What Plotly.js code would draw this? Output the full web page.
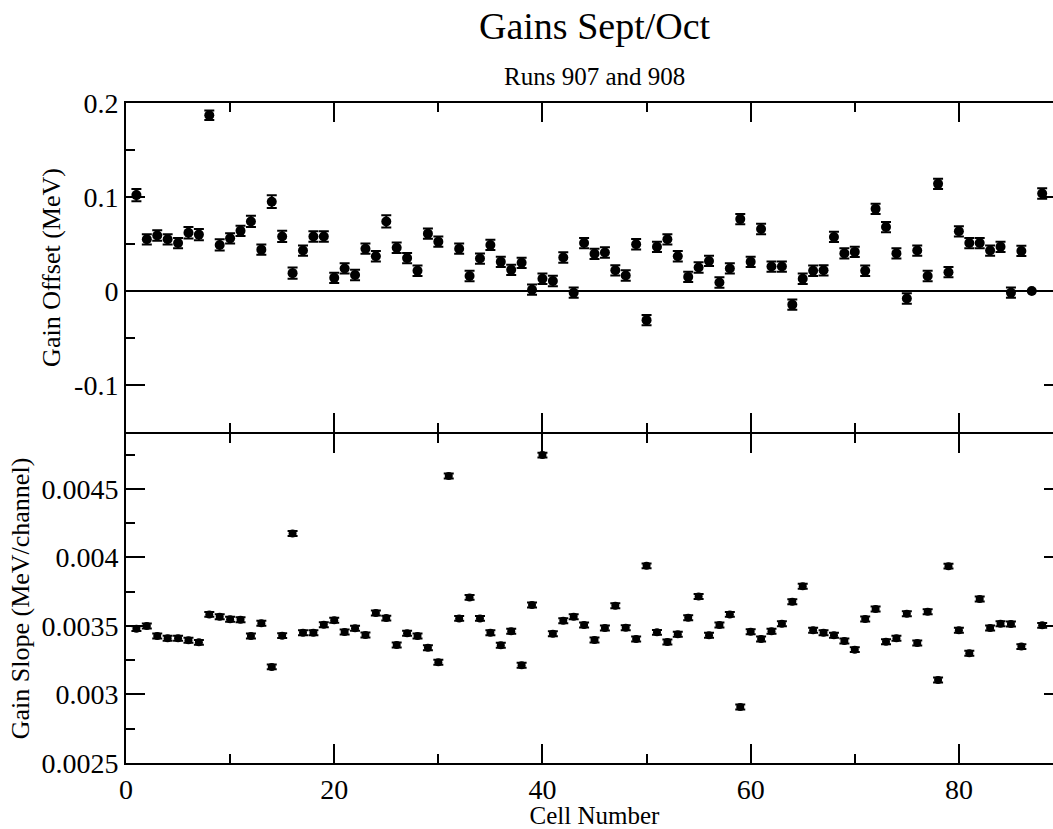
<!DOCTYPE html>
<html>
<head>
<meta charset="utf-8">
<script src="https://cdn.plot.ly/plotly-3.0.1.min.js"></script>
<style>
html, body { margin: 0; padding: 0; overflow: hidden; background: #fff; }
#chart { width: 1100px; height: 829px; }
</style>
</head>
<body>
<div id="chart"></div>
<script>
const cells = [1,2,3,4,5,6,7,8,9,10,11,12,13,14,15,16,17,18,19,20,21,22,23,24,25,26,27,28,29,30,
  31,32,33,34,35,36,37,38,39,40,41,42,43,44,45,46,47,48,49,50,51,52,53,54,55,56,57,58,59,60,
  61,62,63,64,65,66,67,68,69,70,71,72,73,74,75,76,77,78,79,80,81,82,83,84,85,86,87,88];

const gainOffset = [0.102,0.055,0.059,0.055,0.051,0.062,0.060,0.187,0.049,0.056,
  0.064,0.074,0.044,0.095,0.058,0.019,0.043,0.058,0.058,0.014,
  0.024,0.017,0.045,0.037,0.074,0.046,0.035,0.0215,0.061,0.0525,
  null,0.045,0.016,0.0345,0.049,0.031,0.0225,0.030,0.0014,0.013,
  0.0106,0.0356,-0.0018,0.051,0.0395,0.041,0.022,0.0165,0.0497,-0.031,
  0.047,0.055,0.037,0.015,0.025,0.032,0.009,0.024,0.0765,0.031,
  0.066,0.026,0.026,-0.0145,0.013,0.0215,0.022,0.0575,0.040,0.0416,
  0.0215,0.0874,0.068,0.040,-0.008,0.043,0.016,0.114,0.020,0.0635,
  0.051,0.051,0.043,0.047,-0.0018,0.0426,0,0.1037];

const gainOffsetErr = [0.0065,0.0055,0.0055,0.0055,0.0055,0.0062,0.006,0.005,0.006,0.0055,
  0.0055,0.006,0.0055,0.0068,0.006,0.006,0.0055,0.0055,0.0055,0.0055,
  0.0055,0.0055,0.0055,0.0055,0.0065,0.0055,0.0055,0.0055,0.0055,0.0055,
  null,0.0055,0.0055,0.0055,0.0055,0.0055,0.0055,0.0055,0.0055,0.0055,
  0.0055,0.0055,0.0055,0.0055,0.0055,0.0055,0.0055,0.0055,0.0055,0.0055,
  0.0055,0.0055,0.0055,0.0055,0.0055,0.0055,0.0055,0.0055,0.0055,0.0055,
  0.0055,0.0055,0.0055,0.0055,0.0055,0.0055,0.0055,0.0055,0.0055,0.0055,
  0.0055,0.0055,0.0055,0.0055,0.0055,0.0055,0.0055,0.0055,0.0055,0.0055,
  0.0055,0.0055,0.0055,0.0055,0.0055,0.0055,0,0.0055];

const gainSlope = [0.00348,0.00350,0.003427,0.00341,0.00341,0.003395,0.00338,0.003584,0.003567,0.003548,
  0.003545,0.003427,0.003519,0.003201,0.003429,0.004174,0.00345,0.00345,0.003509,0.003541,
  0.003456,0.003483,0.003434,0.003594,0.003557,0.003361,0.003446,0.003427,0.003341,0.003235,
  0.004593,0.003555,0.003708,0.003555,0.00345,0.003359,0.003461,0.003213,0.003652,0.004746,
  0.003443,0.003538,0.003567,0.003507,0.003397,0.003485,0.003647,0.003487,0.003405,0.003938,
  0.003453,0.003383,0.003439,0.00356,0.003715,0.003432,0.003507,0.003584,0.002908,0.003458,
  0.003405,0.003461,0.003516,0.003676,0.00379,0.003468,0.00345,0.003432,0.00339,0.003327,
  0.00355,0.003623,0.003385,0.00341,0.003589,0.003376,0.003603,0.003106,0.003936,0.003468,
  0.003301,0.003696,0.003485,0.003516,0.003514,0.003349,null,0.003504];

const gainSlopeErr = [0.000018,0.000018,0.000018,0.000018,0.000018,0.000018,0.000018,0.000018,0.000018,0.000018,
  0.000018,0.000018,0.000018,0.000018,0.000018,0.000018,0.000018,0.000018,0.000018,0.000018,
  0.000018,0.000018,0.000018,0.000018,0.000018,0.000018,0.000018,0.000018,0.000018,0.000018,
  0.000018,0.000018,0.000018,0.000018,0.000018,0.000018,0.000018,0.000018,0.000018,0.000018,
  0.000018,0.000018,0.000018,0.000018,0.000018,0.000018,0.000018,0.000018,0.000018,0.000018,
  0.000018,0.000018,0.000018,0.000018,0.000018,0.000018,0.000018,0.000018,0.000018,0.000018,
  0.000018,0.000018,0.000018,0.000018,0.000018,0.000018,0.000018,0.000018,0.000018,0.000018,
  0.000018,0.000018,0.000018,0.000018,0.000018,0.000018,0.000018,0.000018,0.000018,0.000018,
  0.000018,0.000018,0.000018,0.000018,0.000018,0.000018,null,0.000018];

const xTickVals = [0, 20, 40, 60, 80];
const offsetTickVals = [-0.1, 0, 0.1, 0.2];
const offsetTickText = ['-0.1', '0', '0.1', '0.2'];
const slopeTickVals = [0.0025, 0.003, 0.0035, 0.004, 0.0045];
const slopeTickText = ['0.0025', '0.003', '0.0035', '0.004', '0.0045'];

const FONT = 'Liberation Serif, Times New Roman, serif';
const TICKSIZE = 28;

const traces = [
  {
    x: cells, y: gainOffset, type: 'scatter', mode: 'markers',
    xaxis: 'x2', yaxis: 'y2',
    marker: { color: '#000', size: 10 },
    error_y: { type: 'data', array: gainOffsetErr, visible: true, color: '#000', thickness: 2, width: 5 },
    hoverinfo: 'x+y'
  },
  {
    x: cells, y: gainSlope, type: 'scatter', mode: 'markers',
    xaxis: 'x', yaxis: 'y',
    marker: { color: '#000', size: 8 },
    error_y: { type: 'data', array: gainSlopeErr, visible: true, color: '#000', thickness: 2, width: 5 },
    hoverinfo: 'x+y'
  }
];

const baseX = {
  range: [0, 90], showline: true, linecolor: '#000', linewidth: 2, mirror: 'ticks',
  ticks: 'inside', ticklen: 19, tickwidth: 2, tickcolor: '#000',
  tickvals: xTickVals, showgrid: false, zeroline: false,
  minor: { tickvals: [10, 30, 50, 70, 90], ticks: 'inside', ticklen: 9, tickwidth: 2, tickcolor: '#000', showgrid: false },
  tickfont: { family: FONT, size: TICKSIZE, color: '#000' }
};

const layout = {
  width: 1100, height: 829,
  margin: { l: 126, r: 37, t: 103, b: 66 },
  paper_bgcolor: '#fff', plot_bgcolor: '#fff',
  showlegend: false,
  font: { family: FONT, color: '#000' },
  xaxis: Object.assign({}, baseX, {
    anchor: 'y', domain: [0, 1],
    title: { text: 'Cell Number', font: { family: FONT, size: 25, color: '#000' }, standoff: 0 }
  }),
  xaxis2: Object.assign({}, baseX, {
    anchor: 'y2', domain: [0, 1], matches: 'x', showticklabels: false
  }),
  yaxis: {
    anchor: 'x', domain: [0, 0.49848], range: [0.0025, 0.0049],
    showline: true, linecolor: '#000', linewidth: 2, mirror: 'ticks',
    ticks: 'inside', ticklen: 19, tickwidth: 2, tickcolor: '#000',
    tickvals: slopeTickVals, ticktext: slopeTickText,
    minor: { tickvals: [0.00275, 0.00325, 0.00375, 0.00425, 0.00475], ticks: 'inside', ticklen: 9, tickwidth: 2, tickcolor: '#000', showgrid: false },
    showgrid: false, zeroline: false,
    tickfont: { family: FONT, size: TICKSIZE, color: '#000' },
    title: { text: 'Gain Slope (MeV/channel)', font: { family: FONT, size: 26, color: '#000' }, standoff: 4 }
  },
  yaxis2: {
    anchor: 'x2', domain: [0.50152, 1], range: [-0.15, 0.2],
    showline: true, linecolor: '#000', linewidth: 2, mirror: 'ticks',
    ticks: 'inside', ticklen: 19, tickwidth: 2, tickcolor: '#000',
    tickvals: offsetTickVals, ticktext: offsetTickText,
    minor: { tickvals: [-0.15, -0.05, 0.05, 0.15], ticks: 'inside', ticklen: 9, tickwidth: 2, tickcolor: '#000', showgrid: false },
    showgrid: false, zeroline: true, zerolinecolor: '#000', zerolinewidth: 2,
    tickfont: { family: FONT, size: TICKSIZE, color: '#000' },
    title: { text: 'Gain Offset (MeV)', font: { family: FONT, size: 26, color: '#000' }, standoff: 6 }
  },
  annotations: [
    { text: 'Gains Sept/Oct', xref: 'paper', yref: 'paper', x: 0.5, y: 1.1167,
      xanchor: 'center', yanchor: 'middle', showarrow: false,
      font: { family: FONT, size: 38, color: '#000' } },
    { text: 'Runs 907 and 908', xref: 'paper', yref: 'paper', x: 0.5, y: 1.0405,
      xanchor: 'center', yanchor: 'middle', showarrow: false,
      font: { family: FONT, size: 25, color: '#000' } }
  ]
};

Plotly.newPlot('chart', traces, layout, { displayModeBar: false, staticPlot: true });
</script>
</body>
</html>
